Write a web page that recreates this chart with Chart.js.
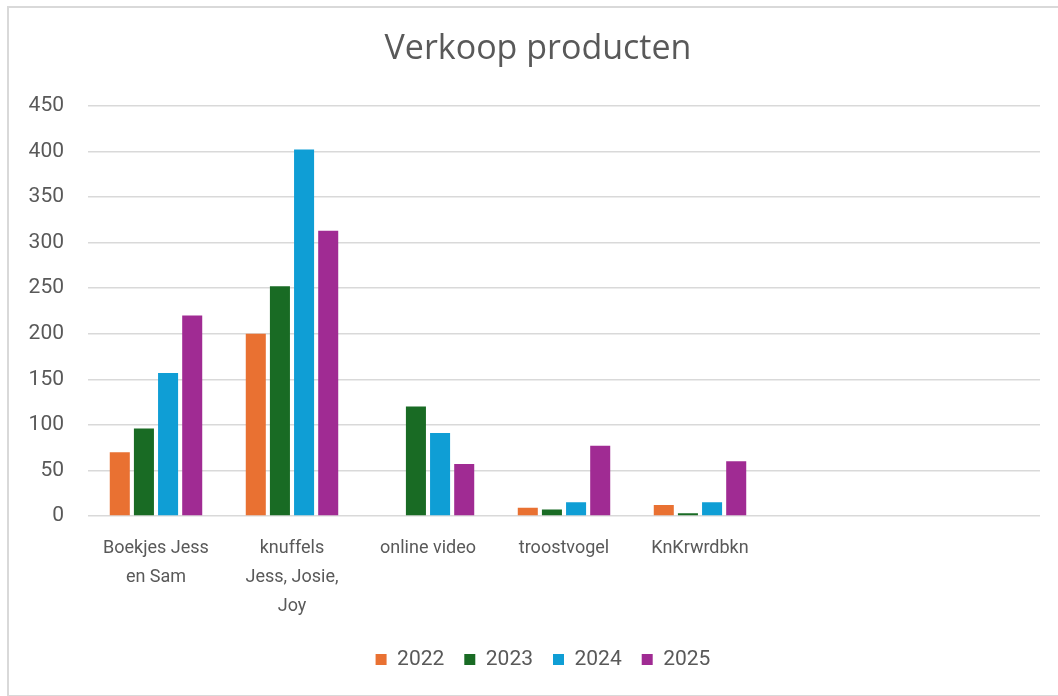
<!DOCTYPE html>
<html>
<head>
<meta charset="utf-8">
<script src="https://cdn.jsdelivr.net/npm/chart.js@4.4.1/dist/chart.umd.min.js"></script>
<style>
  html, body { margin: 0; padding: 0; background: #fff; }
  #wrap { position: relative; width: 1058px; height: 696px; overflow: hidden; }
  #frame {
    position: absolute; left: 7px; top: 6px; width: 1100px; height: 687px;
    border: 2px solid #d9d9d9; pointer-events: none;
  }
  canvas { position: absolute; left: 0; top: 0; }
</style>
</head>
<body>
<div id="wrap">
  <canvas id="chart" width="1058" height="696"></canvas>
  <div id="frame"></div>
</div>
<script>
// category labels (Excel wraps the long ones)
const categories = [
  ['Boekjes Jess', 'en Sam'],
  ['knuffels', 'Jess, Josie,', 'Joy'],
  'online video',
  'troostvogel',
  'KnKrwrdbkn',
  '',
  ''
];

const years = ['2022', '2023', '2024', '2025'];

const sales2022 = [70, 200, null, 9, 12, null, null];
const sales2023 = [96, 252, 120, 7, 3, null, null];
const sales2024 = [157, 402, 91, 15, 15, null, null];
const sales2025 = [220, 313, 57, 77, 60, null, null];

const colors = ['#E97132', '#196B24', '#0F9ED5', '#A02B93'];
const textColor = '#595959';
const fontFamily = 'Roboto, "Noto Sans", sans-serif';

const series = [sales2022, sales2023, sales2024, sales2025];

// Excel centres title and legend on the whole frame, not on the plot
const shiftBlocks = {
  id: 'shiftBlocks',
  afterLayout(chart) {
    chart.titleBlock.left += 36;
    chart.legend.left += 46;
  }
};

const ctx = document.getElementById('chart').getContext('2d');
new Chart(ctx, {
  type: 'bar',
  data: {
    labels: categories,
    datasets: series.map((values, i) => ({
      label: years[i],
      data: values,
      backgroundColor: colors[i],
      borderWidth: 0,
      categoryPercentage: 0.71,
      barPercentage: 0.83
    }))
  },
  plugins: [shiftBlocks],
  options: {
    responsive: false,
    animation: false,
    layout: { padding: { left: 0, right: 18, top: 0, bottom: 16 } },
    plugins: {
      title: {
        display: true,
        text: 'Verkoop producten',
        color: textColor,
        font: { family: '"Open Sans", sans-serif', size: 34, weight: 'normal', lineHeight: 1.2 },
        padding: { top: 29, bottom: 36 }
      },
      legend: {
        position: 'bottom',
        labels: {
          color: textColor,
          boxWidth: 11,
          boxHeight: 11,
          padding: 20,
          font: { family: fontFamily, size: 21 }
        }
      },
      tooltip: { enabled: false }
    },
    scales: {
      x: {
        grid: { display: false },
        border: { display: false },
        ticks: {
          color: textColor,
          maxRotation: 0,
          autoSkip: false,
          padding: 10,
          font: { family: fontFamily, size: 18, lineHeight: 1.62 }
        },
        afterFit: (scale) => { scale.height = 113; }
      },
      y: {
        min: 0,
        max: 450,
        grid: { color: '#d9d9d9', lineWidth: 1.5, drawTicks: false },
        border: { display: false },
        ticks: {
          stepSize: 50,
          color: textColor,
          padding: 24,
          font: { family: fontFamily, size: 21 }
        },
        afterFit: (scale) => { scale.width = 88; }
      }
    }
  }
});
</script>
</body>
</html>
